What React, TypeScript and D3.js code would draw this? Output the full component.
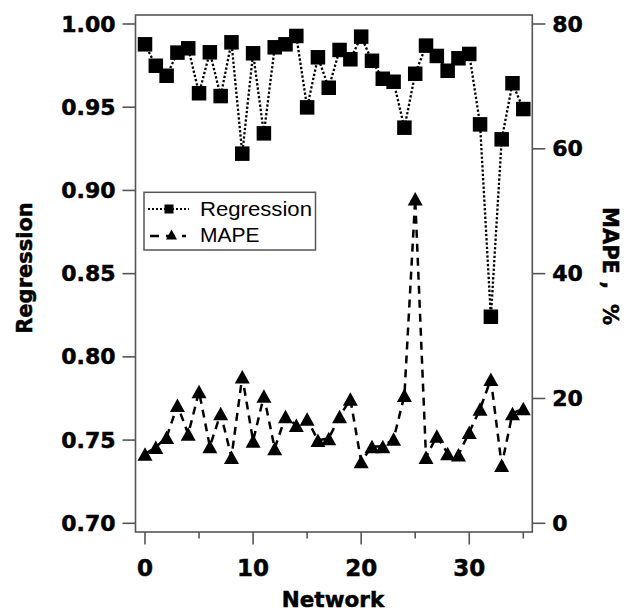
import React from 'react';
import * as d3 from 'd3';

const networks = [0, 1, 2, 3, 4, 5, 6, 7, 8, 9, 10, 11, 12, 13, 14, 15, 16, 17, 18, 19, 20, 21, 22, 23, 24, 25, 26, 27, 28, 29, 30, 31, 32, 33, 34, 35];
const regression = [0.9878, 0.9749, 0.9689, 0.9828, 0.9854, 0.9584, 0.983, 0.9567, 0.989, 0.9221, 0.9824, 0.9343, 0.986, 0.9878, 0.9928, 0.9499, 0.98, 0.9617, 0.9844, 0.9788, 0.9924, 0.9779, 0.9671, 0.9653, 0.9377, 0.9701, 0.987, 0.9808, 0.9719, 0.9794, 0.982, 0.9397, 0.8241, 0.9307, 0.9644, 0.9489];
const mape = [11.1, 12.2, 13.8, 18.9, 14.3, 21.1, 12.3, 17.6, 10.6, 23.5, 13.2, 20.4, 12.0, 17.1, 15.7, 16.7, 13.3, 13.6, 17.1, 19.9, 9.9, 12.3, 12.3, 13.5, 20.5, 52.0, 10.6, 14.0, 11.2, 11.0, 14.6, 18.3, 23.1, 9.3, 17.6, 18.4];
const regTicks = [0.7, 0.75, 0.8, 0.85, 0.9, 0.95, 1.0];
const mapeTicks = [0, 20, 40, 60, 80];
const xMajorTicks = [0, 10, 20, 30];
const xMinorTicks = [5, 15, 25, 35];

const FRAME = '#555';
const LABEL_FONT = '"DejaVu Sans", Verdana, sans-serif';

export default function App() {
  const W = 634, H = 613;
  const left = 135.5, right = 532.3, top = 15, bottom = 532;
  const x = d3.scaleLinear().domain([0, 35]).range([145, 523.3]);
  const yR = d3.scaleLinear().domain([0.7, 1.0]).range([523.3, 24]);
  const yM = d3.scaleLinear().domain([0, 80]).range([523.3, 24]);

  const regLine = d3.line<number>().x((_, i) => x(networks[i])).y(d => yR(d));
  const mapeLine = d3.line<number>().x((_, i) => x(networks[i])).y(d => yM(d));

  const sq = 14.5;
  const tri = (w: number, h: number) => `M0,${-h / 2}L${w / 2},${h / 2}L${-w / 2},${h / 2}Z`;
  const bold = { fontFamily: LABEL_FONT, fontWeight: 'bold' as const, fill: '#000', stroke: '#000', strokeWidth: 0.5 };

  return (
    <svg width={W} height={H} style={{ position: 'absolute', left: 0, top: 0, background: '#fff' }}>
      <rect x={0} y={0} width={W} height={H} fill="#fff" />
      {/* frame */}
      <rect x={left} y={top} width={right - left} height={bottom - top} fill="none" stroke={FRAME} strokeWidth={1.6} />
      {/* left ticks */}
      {regTicks.map(t => (
        <g key={'lt' + t}>
          <line x1={left - 13} x2={left} y1={yR(t)} y2={yR(t)} stroke={FRAME} strokeWidth={1.6} />
          <text x={left - 20} y={yR(t)} textAnchor="end" dominantBaseline="central" fontSize={22} {...bold}>{t.toFixed(2)}</text>
        </g>
      ))}
      {/* right ticks */}
      {mapeTicks.map(t => (
        <g key={'rt' + t}>
          <line x1={right} x2={right + 13} y1={yM(t)} y2={yM(t)} stroke={FRAME} strokeWidth={1.6} />
          <text x={right + 20} y={yM(t)} textAnchor="start" dominantBaseline="central" fontSize={22} {...bold}>{t}</text>
        </g>
      ))}
      {/* bottom ticks */}
      {xMajorTicks.map(t => (
        <g key={'bt' + t}>
          <line x1={x(t)} x2={x(t)} y1={bottom} y2={bottom + 12.5} stroke={FRAME} strokeWidth={1.6} />
          <text x={x(t)} y={576} textAnchor="middle" fontSize={23} {...bold}>{t}</text>
        </g>
      ))}
      {xMinorTicks.map(t => (
        <line key={'mt' + t} x1={x(t)} x2={x(t)} y1={bottom} y2={bottom + 6.5} stroke={FRAME} strokeWidth={1.6} />
      ))}
      {/* axis titles */}
      <text x={333} y={607} textAnchor="middle" fontSize={21.5} {...bold}>Network</text>
      <text transform={`translate(32,268) rotate(-90)`} textAnchor="middle" fontSize={21} {...bold}>Regression</text>
      <text transform={`translate(603,266) rotate(90)`} textAnchor="middle" fontSize={21} {...bold} style={{ whiteSpace: 'pre' }}>{'MAPE ,  %'}</text>

      {/* series lines */}
      <path d={regLine(regression) || ''} fill="none" stroke="#000" strokeWidth={2.3} strokeDasharray="2.3 2" />
      <path d={mapeLine(mape) || ''} fill="none" stroke="#000" strokeWidth={2.5} strokeDasharray="8 6" />
      {/* markers */}
      {regression.map((v, i) => (
        <rect key={'s' + i} x={x(networks[i]) - sq / 2} y={yR(v) - sq / 2} width={sq} height={sq} fill="#000" />
      ))}
      {mape.map((v, i) => (
        <path key={'t' + i} d={tri(15, 13.5)} transform={`translate(${x(networks[i])},${yM(v)})`} fill="#000" />
      ))}

      {/* legend */}
      <rect x={144} y={192.3} width={171.5} height={57.7} fill="#fff" stroke={FRAME} strokeWidth={1.5} />
      <line x1={148} x2={189} y1={209} y2={209} stroke="#000" strokeWidth={2.2} strokeDasharray="2 2" />
      <rect x={164.5} y={204.5} width={9} height={9} fill="#000" />
      <text x={200} y={216} fontFamily='"Liberation Sans", Arial, sans-serif' fontSize={21} fill="#000" textLength={112} lengthAdjust="spacingAndGlyphs">Regression</text>
      <line x1={148} x2={186} y1={236} y2={236} stroke="#000" strokeWidth={2.4} strokeDasharray="9 7" strokeDashoffset={-2} />
      <path d={tri(11, 10)} transform="translate(171.5,234.5)" fill="#000" />
      <text x={200} y={242} fontFamily='"Liberation Sans", Arial, sans-serif' fontSize={21} fill="#000">MAPE</text>
    </svg>
  );
}
